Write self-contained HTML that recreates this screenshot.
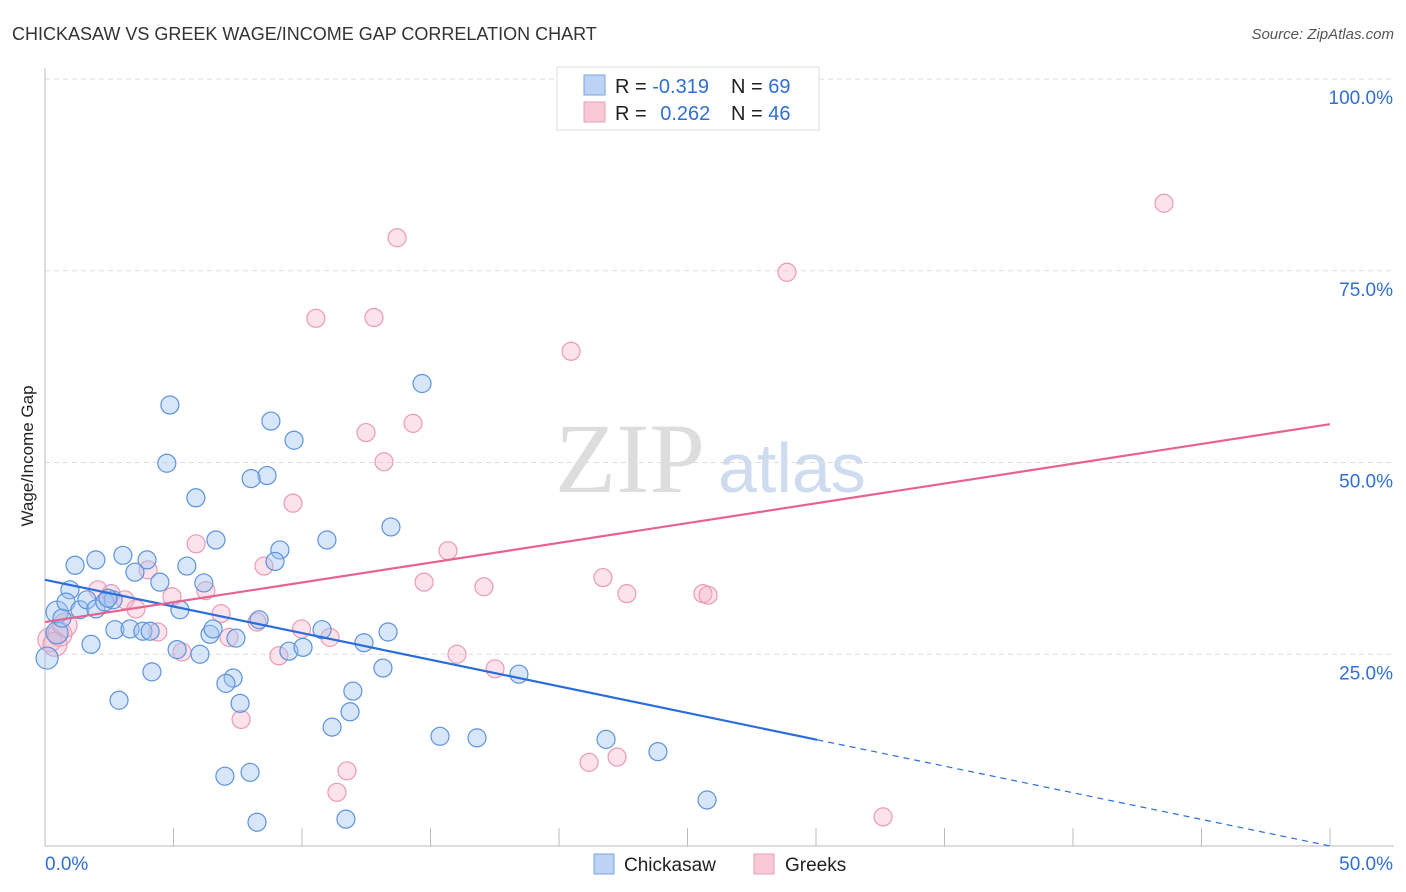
<!DOCTYPE html>
<html><head><meta charset="utf-8"><style>
body{margin:0;background:#fff;font-family:"Liberation Sans",sans-serif;}
#wrap{position:relative;width:1406px;height:892px;overflow:hidden;}
</style></head><body>
<div id="wrap">
<svg id="svg" width="1406" height="892" xmlns="http://www.w3.org/2000/svg">
<text x="12" y="40" font-size="18" fill="#333">CHICKASAW VS GREEK WAGE/INCOME GAP CORRELATION CHART</text>
<text x="1394" y="39" font-size="15" fill="#555" font-style="italic" text-anchor="end">Source: ZipAtlas.com</text>
<text x="33" y="456" font-size="17" fill="#222" text-anchor="middle" transform="rotate(-90 33 456)">Wage/Income Gap</text>
<text x="555" y="492" font-size="100" fill="#ddd" font-family="Liberation Serif">ZIP</text>
<text x="718" y="492" font-size="70" fill="#cfdcf0">atlas</text>
<g id="grid"></g><g id="marks"></g>
<g>
<rect x="557" y="67" width="262" height="63" fill="#fff" stroke="#ddd"/>
<rect x="584" y="75" width="21" height="20" fill="#bcd3f5" stroke="#7aa3e0"/>
<rect x="584" y="102" width="21" height="20" fill="#f9c8d6" stroke="#e8a0b4"/>
<text x="615" y="93" font-size="20" fill="#222">R = <tspan fill="#2f6fd6">-0.319</tspan></text>
<text x="731" y="93" font-size="20" fill="#222">N = <tspan fill="#2f6fd6">69</tspan></text>
<text x="615" y="120" font-size="20" fill="#222">R = <tspan fill="#2f6fd6" dx="8">0.262</tspan></text>
<text x="731" y="120" font-size="20" fill="#222">N = <tspan fill="#2f6fd6">46</tspan></text>
</g>
<g>
<rect x="594" y="854" width="20" height="20" fill="#bcd3f5" stroke="#7aa3e0"/>
<text x="624" y="871" font-size="19" fill="#222">Chickasaw</text>
<rect x="754" y="854" width="20" height="20" fill="#f9c8d6" stroke="#e8a0b4"/>
<text x="785" y="871" font-size="19" fill="#222">Greeks</text>
</g>
</svg></div>
<script>
const xTicks=[0,5,10,15,20,25,30,35,40,45,50];
const yTicks=[25,50,75,100];
const chickX=[0.47,0.97,1.17,1.98,3.03,3.97,0.82,1.36,1.63,1.98,2.33,2.65,2.72,3.31,3.81,4.47,3.5,5.25,5.52,6.18,6.65,4.86,4.74,5.87,8.79,9.69,8.64,8.02,9.14,8.95,10.97,13.46,14.67,8.33,6.42,6.54,7.43,6.03,5.14,4.16,2.88,1.79,7.32,7.04,7.59,9.49,10.04,10.78,12.41,13.35,11.98,13.15,11.87,11.17,15.37,16.81,18.44,21.83,23.85,25.76,7,7.98,8.25,11.71,0.08,0.47,0.66,2.45,4.09];
const chickY=[30.5,33.4,36.6,37.3,37.9,37.3,31.8,30.8,32.1,30.9,31.8,32.1,28.2,28.3,28.0,34.4,35.7,30.8,36.5,34.3,39.9,57.5,49.9,45.4,55.4,52.9,48.3,47.9,38.6,37.1,39.9,41.6,60.3,29.5,27.6,28.3,27.1,25.0,25.6,22.7,19.0,26.3,21.9,21.2,18.6,25.4,25.9,28.2,26.5,27.9,20.2,23.2,17.5,15.5,14.3,14.1,22.4,13.9,12.3,6.0,9.1,9.6,3.1,3.5,24.5,27.8,29.7,32.3,28.0];
const greekX=[0.19,0.58,0.78,2.06,2.57,3.11,3.54,4.01,4.39,4.94,5.33,5.88,6.26,6.85,7.16,7.63,8.25,8.52,9.1,9.65,9.98,11.09,10.54,12.49,12.8,13.19,13.7,14.32,15.68,14.75,17.08,16.03,17.51,20.47,21.71,22.64,25.6,25.8,28.87,43.54,21.17,22.26,11.75,11.36,32.61,0.39];
const greekY=[26.9,27.6,28.8,33.4,32.9,32.1,30.9,36.0,27.9,32.5,25.3,39.4,33.3,30.3,27.2,16.5,29.2,36.5,24.8,44.7,28.3,27.2,68.8,53.9,68.9,50.1,79.3,55.1,38.5,34.4,33.8,25.0,23.1,64.5,35.0,32.9,32.9,32.7,74.8,83.8,10.9,11.6,9.8,7.0,3.8,26.3];
const blueLine=[34.7,0];const pinkLine=[29.2,55.0];const blueSolidEnd=30.05;
const ns="http://www.w3.org/2000/svg";
const X=v=>45+v/50*1285, Y=v=>846-v*7.67;
function mk(tag,attrs,parent){const e=document.createElementNS(ns,tag);for(const k in attrs)e.setAttribute(k,attrs[k]);parent.appendChild(e);return e;}
const grid=document.getElementById('grid'),marks=document.getElementById('marks');
yTicks.forEach(t=>{const l=mk('line',{x1:45,x2:1394,y1:Y(t),y2:Y(t),stroke:'#ddd','stroke-dasharray':'5,4'},grid);


const tx=mk('text',{x:1393,y:Y(t)+25,'font-size':19,fill:'#2f6fd6','text-anchor':'end'},grid);tx.textContent=t.toFixed(1)+'%';

});
mk('line',{x1:45,x2:45,y1:68,y2:846,stroke:'#bbb'},grid);
mk('line',{x1:45,x2:1394,y1:846,y2:846,stroke:'#bbb'},grid);
xTicks.forEach(t=>{const l=mk('line',{x1:X(t),x2:X(t),y1:828,y2:846,stroke:'#bbb'},grid);

});
const xl0=mk('text',{x:45,y:870,'font-size':19,fill:'#2f6fd6'},grid);xl0.textContent=xTicks[0].toFixed(1)+'%';


const xl1=mk('text',{x:1393,y:870,'font-size':19,fill:'#2f6fd6','text-anchor':'end'},grid);xl1.textContent=xTicks[xTicks.length-1].toFixed(1)+'%';


greekX.forEach((x,i)=>{const c=mk('circle',{cx:X(x),cy:Y(greekY[i]),r:(x<0.8?12:9),fill:'rgba(246,176,198,0.35)',stroke:'#eb9ab4','stroke-width':1.2},marks);

});
chickX.forEach((x,i)=>{const c=mk('circle',{cx:X(x),cy:Y(chickY[i]),r:(x<0.5?11:9),fill:'rgba(160,196,240,0.42)',stroke:'#5d93dd','stroke-width':1.2},marks);

});
const by=x=>blueLine[0]+(blueLine[1]-blueLine[0])*x/50;
const b1=mk('line',{x1:X(0),y1:Y(by(0)),x2:X(blueSolidEnd),y2:Y(by(blueSolidEnd)),stroke:'#2a6ddb','stroke-width':2.2},marks);


const b2=mk('line',{x1:X(blueSolidEnd),y1:Y(by(blueSolidEnd)),x2:X(50),y2:Y(by(50)),stroke:'#2a6ddb','stroke-width':1.2,'stroke-dasharray':'6,5'},marks);


const p1=mk('line',{x1:X(0),y1:Y(pinkLine[0]),x2:X(50),y2:Y(pinkLine[1]),stroke:'#e8628e','stroke-width':2.2},marks);


</script>
</body></html>
